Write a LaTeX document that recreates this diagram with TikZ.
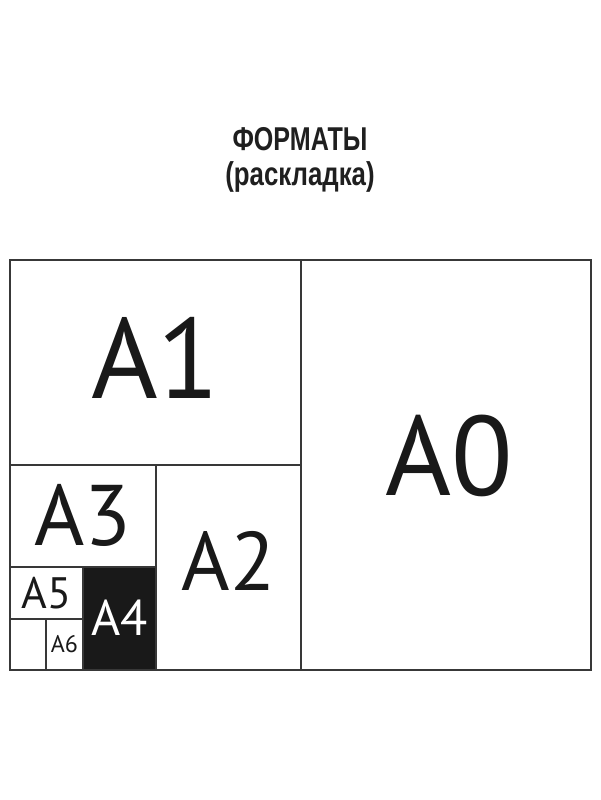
\documentclass[tikz,border=0pt]{standalone}
\usepackage{fontspec}
\setmainfont{PT Sans}
\newfontfamily\titlefont[FakeStretch=0.76]{Liberation Sans Bold}
\newcommand{\fsz}[1]{\fontsize{#1}{#1}\selectfont}
\tikzset{
  sheet/.style={draw=black!78,line width=1.5pt,inner sep=0pt,text=black!90},
  heading/.style={anchor=base,inner sep=0pt,text=black!88,font=\titlefont\fsz{33}}
}
\begin{document}
\begin{tikzpicture}[x=1pt,y=-1pt]
\useasboundingbox[fill=white] (0,0) rectangle (600,800);

% -- title
\node [heading] (title) at (300,150) {ФОРМАТЫ};
\node [heading,xscale=1.03] (subtitle) at (300,185) {(раскладка)};

% -- sheets
\node [sheet,minimum width=290pt,minimum height=410pt,font=\fsz{113},text depth=19pt] (A0) at (446,465) {\hspace{6pt}A0};
\node [sheet,minimum width=291pt,minimum height=205pt,font=\fsz{114},text depth=10pt] (A1) at (155.5,362.5) {A1};
\node [sheet,minimum width=145pt,minimum height=205pt,font=\fsz{83},text depth=13pt] (A2) at (228.5,567.5) {A2};
\node [sheet,minimum width=146pt,minimum height=102pt,font=\fsz{86},text depth=2pt] (A3) at (83,516) {A3};
\node [sheet,fill=black!90,text=white,minimum width=73pt,minimum height=103pt,font=\fsz{50},text depth=2pt] (A4) at (119.5,618.5) {A4};
\node [sheet,minimum width=73pt,minimum height=52pt,font=\fsz{44}] (A5) at (46.5,593) {\raisebox{-3pt}{A5}};
\node [sheet,minimum width=37pt,minimum height=51pt,font=\fsz{24}] (A6) at (64.5,644.5) {\raisebox{-4pt}{A6}};
\node [sheet,minimum width=36pt,minimum height=51pt] (A7) at (28,644.5) {};
\end{tikzpicture}
\end{document}
